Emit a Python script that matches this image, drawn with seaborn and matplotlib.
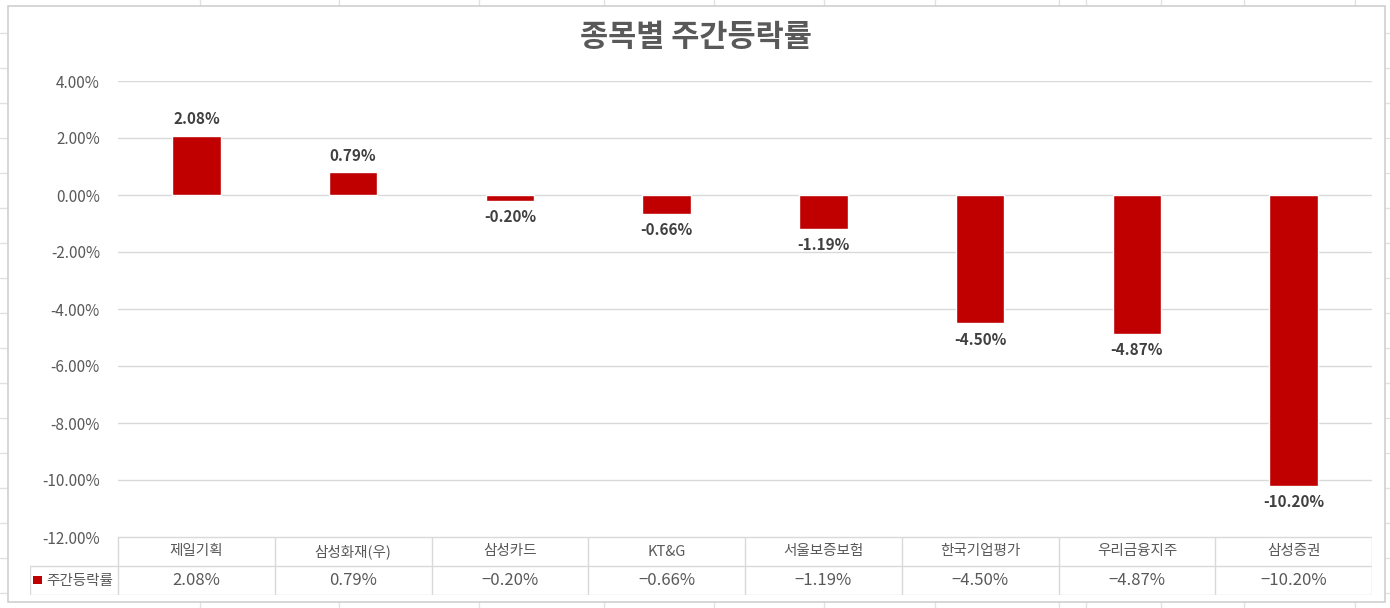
import matplotlib
matplotlib.use('Agg')
import matplotlib.pyplot as plt
import seaborn as sns
from matplotlib.lines import Line2D
from matplotlib.patches import Rectangle

categories = ['제일기획', '삼성화재(우)', '삼성카드', 'KT&G', '서울보증보험', '한국기업평가', '우리금융지주', '삼성증권']
weekly_change = [2.08, 0.79, -0.20, -0.66, -1.19, -4.50, -4.87, -10.20]
series_name = '주간등락률'
title = '종목별 주간등락률'
y_ticks = [4, 2, 0, -2, -4, -6, -8, -10, -12]

sns.set_theme(style='white')
plt.rcParams['font.family'] = ['Noto Sans CJK KR', 'DejaVu Sans']
plt.rcParams['axes.unicode_minus'] = False

W, H = 1390, 608
fig = plt.figure(figsize=(W / 100, H / 100), dpi=100)
fig.patch.set_facecolor('white')

def fx(px):
    return px / W

def fy(py):
    return 1 - py / H

# spreadsheet grid behind the chart
grid_c = '#E1E1E1'
for x in [200, 339, 479, 604, 714, 824, 935, 1059, 1086, 1161, 1244, 1355]:
    fig.add_artist(Line2D([fx(x), fx(x)], [0, 1], color=grid_c, lw=1, zorder=0))
for k in range(18):
    y = 33 + 35 * k
    fig.add_artist(Line2D([0, 1], [fy(y), fy(y)], color=grid_c, lw=1, zorder=0))

# chart area
fig.add_artist(Rectangle((fx(8), fy(602)), fx(1385) - fx(8), fy(6) - fy(602),
                         facecolor='white', edgecolor='#D0D0D0', lw=1.2, zorder=1))

ax = fig.add_axes([fx(118), fy(537), fx(1372) - fx(118), fy(81) - fy(537)], zorder=2)
ax.set_facecolor('none')

sns.barplot(x=categories, y=weekly_change, color='#C00000', width=0.31,
            saturation=1, ax=ax, zorder=3)
ax.set_xlim(-0.5, len(categories) - 0.5)
ax.set_ylim(-12, 4)
ax.set_yticks(y_ticks)
ax.set_yticklabels([f'{t:.2f}%' for t in y_ticks], color='#595959', fontsize=11)
ax.tick_params(axis='y', length=0, pad=13)
ax.set_xticks([])
ax.set_xlabel('')
ax.set_ylabel('')
for s in ax.spines.values():
    s.set_visible(False)
for t in y_ticks:
    ax.axhline(t, color='#D9D9D9', lw=1, zorder=1)

ax.bar_label(ax.containers[0], labels=[f'{v:.2f}%' for v in weekly_change],
             padding=6, fontsize=11, fontweight='bold', color='#404040')

fig.text(fx(696), fy(37), title, ha='center', va='center', fontsize=22,
         fontweight='black', color='#595959', zorder=3)

# data table
tab = fig.add_axes([fx(30), fy(595), fx(1372) - fx(30), fy(537) - fy(595)], zorder=2)
unit = (1372 - 118) / len(categories)
left_edge = -0.5 - (118 - 30) / unit
tab.set_xlim(left_edge, len(categories) - 0.5)
tab.set_ylim(0, 2)
tab.axis('off')
tab.set_facecolor('none')
lc = '#D9D9D9'
tab.plot([-0.5, len(categories) - 0.5], [2, 2], color=lc, lw=1)
tab.plot([left_edge, len(categories) - 0.5], [1, 1], color=lc, lw=1)
tab.plot([left_edge, len(categories) - 0.5], [0, 0], color=lc, lw=1)
tab.plot([left_edge, left_edge], [0, 1], color=lc, lw=1)
for i in range(len(categories) + 1):
    tab.plot([i - 0.5, i - 0.5], [0, 2], color=lc, lw=1)
for i, (c, v) in enumerate(zip(categories, weekly_change)):
    tab.text(i, 1.5, c, ha='center', va='center', fontsize=10.5, color='#595959')
    tab.text(i, 0.5, f'{v:.2f}%'.replace('-', '\u2212'), ha='center', va='center',
             fontsize=12, color='#595959')
tab.add_patch(Rectangle((left_edge + 3 / unit, 0.38), 9 / unit, 0.28,
                        facecolor='#C00000', edgecolor='none', clip_on=False))
tab.text(left_edge + 16 / unit, 0.5, series_name, ha='left', va='center',
         fontsize=10.5, color='#595959')

fig.savefig('out.png', dpi=100)
